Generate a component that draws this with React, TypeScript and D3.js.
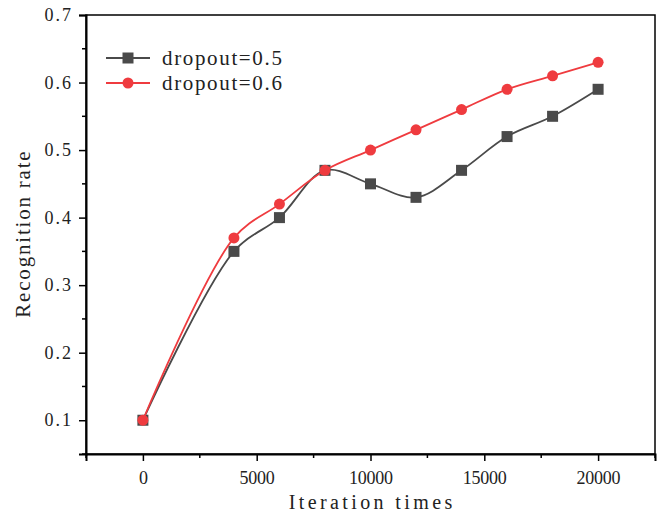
import React, { useRef, useEffect } from "react";
import * as d3 from "d3";

// data
const iterations = [0, 4000, 6000, 8000, 10000, 12000, 14000, 16000, 18000, 20000];
const dropout05 = [0.1, 0.35, 0.4, 0.47, 0.45, 0.43, 0.47, 0.52, 0.55, 0.59];
const dropout06 = [0.1, 0.37, 0.42, 0.47, 0.5, 0.53, 0.56, 0.59, 0.61, 0.63];
const xTicks = [0, 5000, 10000, 15000, 20000];
const yTicks = [0.1, 0.2, 0.3, 0.4, 0.5, 0.6, 0.7];

const width = 659;
const height = 515;
const margin = { left: 86, right: 4, top: 15, bottom: 61 };
const font = "'Liberation Serif', 'DejaVu Serif', serif";

// spread serif glyphs out so they look like the monospaced original
const mono = (sel: any, perChar: number) =>
  sel
    .attr("textLength", function (this: SVGTextElement) {
      return (this.textContent || "").length * perChar;
    })
    .attr("lengthAdjust", "spacing");

function App() {
  const svgRef = useRef<SVGSVGElement | null>(null);

  useEffect(() => {
    const svg = d3.select(svgRef.current);
    svg.selectAll("*").remove();

    const x = d3
      .scaleLinear()
      .domain([-2500, 22500])
      .range([margin.left, width - margin.right]);
    const y = d3
      .scaleLinear()
      .domain([0.05, 0.7])
      .range([height - margin.bottom, margin.top]);

    //frame
    svg
      .append("rect")
      .attr("x", margin.left)
      .attr("y", margin.top)
      .attr("width", width - margin.left - margin.right)
      .attr("height", height - margin.top - margin.bottom)
      .attr("fill", "none")
      .attr("stroke", "#000")
      .attr("stroke-width", 1.5);

    //x axis with minor ticks
    const xAxis = svg
      .append("g")
      .attr("transform", `translate(0,${height - margin.bottom})`);
    xAxis
      .call(
        d3
          .axisBottom(x)
          .tickValues(xTicks)
          .tickSize(7)
          .tickPadding(10)
          .tickFormat(d3.format("d"))
      )
      .call(g => g.select(".domain").attr("stroke-width", 2));
    xAxis
      .selectAll(".minor")
      .data([-2500, 2500, 7500, 12500, 17500, 22500])
      .join("line")
      .attr("x1", d => x(d))
      .attr("x2", d => x(d))
      .attr("y1", 0)
      .attr("y2", 4)
      .attr("stroke", "#000")
      .attr("stroke-width", 1.5);

    //y axis with minor ticks
    const yAxis = svg.append("g").attr("transform", `translate(${margin.left},0)`);
    yAxis
      .call(
        d3
          .axisLeft(y)
          .tickValues(yTicks)
          .tickSize(7)
          .tickPadding(8)
          .tickFormat(d3.format(".1f"))
      )
      .call(g => g.select(".domain").attr("stroke-width", 2));
    yAxis
      .selectAll(".minor")
      .data([0.05, 0.15, 0.25, 0.35, 0.45, 0.55, 0.65])
      .join("line")
      .attr("x1", 0)
      .attr("x2", -4)
      .attr("y1", d => y(d))
      .attr("y2", d => y(d))
      .attr("stroke", "#000")
      .attr("stroke-width", 1.5);

    svg.selectAll(".tick line").attr("stroke-width", 1.5);
    svg
      .selectAll(".tick text")
      .attr("font-family", font)
      .attr("font-size", 18)
      .attr("fill", "#222")
      .call(mono, 8.8);

    //axis titles
    svg
      .append("text")
      .attr("x", (margin.left + width - margin.right) / 2)
      .attr("y", 509)
      .attr("text-anchor", "middle")
      .attr("font-family", font)
      .attr("font-size", 20)
      .attr("fill", "#222")
      .text("Iteration times")
      .call(mono, 10.9);
    svg
      .append("text")
      .attr("transform", `translate(30,${(margin.top + height - margin.bottom) / 2}) rotate(-90)`)
      .attr("text-anchor", "middle")
      .attr("font-family", font)
      .attr("font-size", 21)
      .attr("fill", "#222")
      .text("Recognition rate")
      .call(mono, 10.4);

    const line = d3
      .line<[number, number]>()
      .x(d => x(d[0]))
      .y(d => y(d[1]))
      .curve(d3.curveCatmullRom.alpha(0.5));

    const series = [
      { name: "dropout=0.5", values: dropout05, color: "#4a4a4a", shape: "square" },
      { name: "dropout=0.6", values: dropout06, color: "#ef3b3f", shape: "circle" },
    ];

    series.forEach((s, i) => {
      const pts: [number, number][] = iterations.map((it, j) => [it, s.values[j]]);
      svg
        .append("path")
        .datum(pts)
        .attr("d", line)
        .attr("fill", "none")
        .attr("stroke", s.color)
        .attr("stroke-width", 1.8);

      const drawMarker = (sel: any, cx: (d: any) => number, cy: (d: any) => number) => {
        if (s.shape === "square") {
          sel
            .append("rect")
            .attr("x", (d: any) => cx(d) - 5.5)
            .attr("y", (d: any) => cy(d) - 5.5)
            .attr("width", 11)
            .attr("height", 11)
            .attr("fill", s.color);
        } else {
          sel
            .append("circle")
            .attr("cx", cx)
            .attr("cy", cy)
            .attr("r", 5.5)
            .attr("fill", s.color);
        }
      };

      const marks = svg.append("g").selectAll("g").data(pts).join("g");
      drawMarker(marks, d => x(d[0]), d => y(d[1]));

      //legend entry
      const ly = 58 + i * 25;
      const lg = svg.append("g");
      lg.append("line")
        .attr("x1", 106)
        .attr("x2", 150)
        .attr("y1", ly)
        .attr("y2", ly)
        .attr("stroke", s.color)
        .attr("stroke-width", 1.8);
      drawMarker(lg.append("g").datum([0, 0]), () => 128, () => ly);
      lg.append("text")
        .attr("x", 162)
        .attr("y", ly + 7)
        .attr("font-family", font)
        .attr("font-size", 21)
        .attr("fill", "#222")
        .text(s.name)
        .call(mono, 10.9);
    });
  });

  return (
    <svg
      ref={svgRef}
      width={width}
      height={height}
      style={{ position: "absolute", left: 0, top: 0, background: "#fff" }}
    ></svg>
  );
}

export default App;
